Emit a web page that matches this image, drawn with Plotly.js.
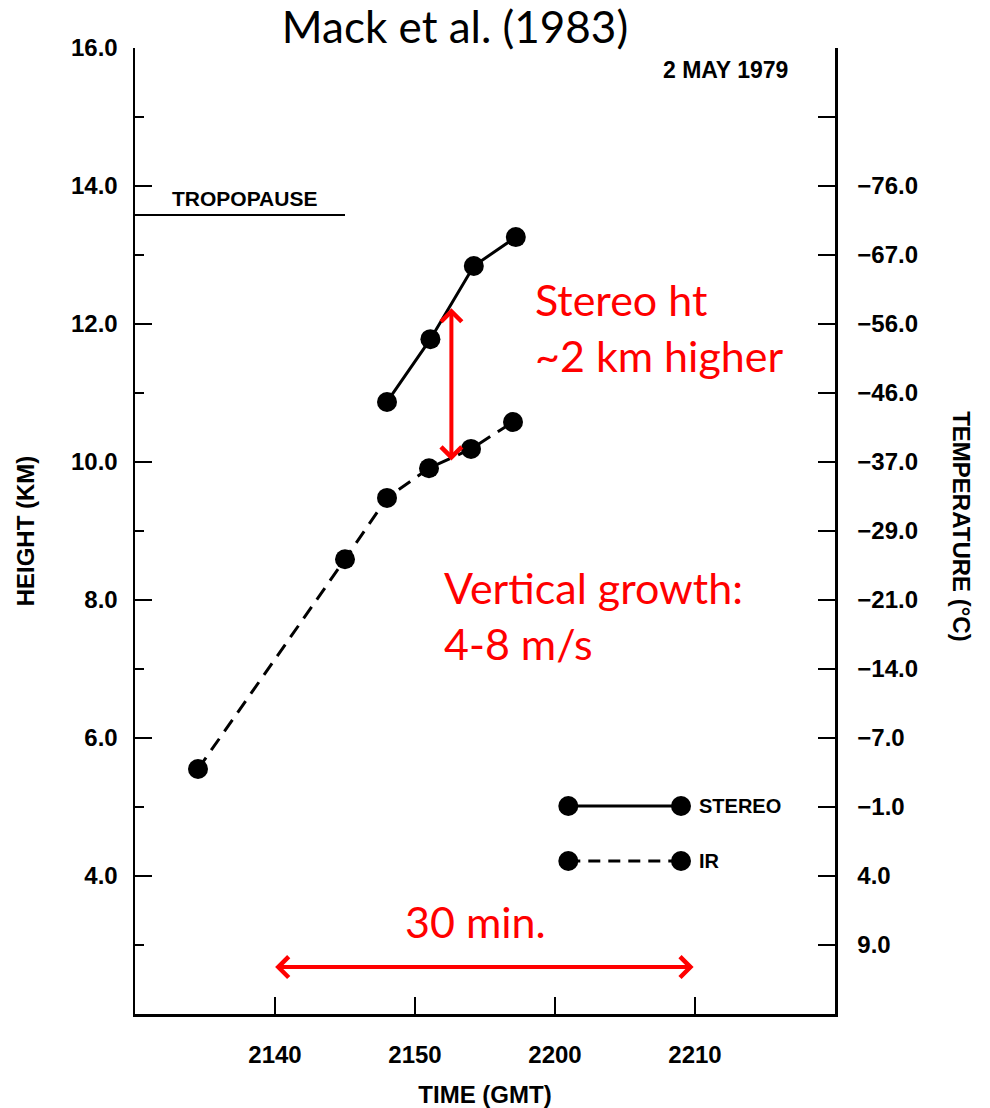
<!DOCTYPE html>
<html>
<head>
<meta charset="utf-8">
<script src="https://cdn.plot.ly/plotly-3.0.1.min.js"></script>
<style>
  html, body { margin: 0; padding: 0; background: #ffffff; }
  #chart { width: 990px; height: 1108px; }
</style>
</head>
<body>
<div id="chart"></div>
<script>
// ---- data (time in minutes after 2100 GMT, height in km) ----
const TIME_IR = [34.5, 45.0, 48.0, 51.0, 54.0, 57.0];
const HEIGHT_IR = [5.55, 8.59, 9.48, 9.91, 10.19, 10.58];
const TIME_STEREO = [48.0, 51.1, 54.2, 57.2];
const HEIGHT_STEREO = [10.87, 11.78, 12.84, 13.26];

const TIME_TICK_VALUES = [40, 50, 60, 70];
const TIME_TICK_LABELS = ["2140", "2150", "2200", "2210"];
const HEIGHT_TICK_VALUES = [4, 6, 8, 10, 12, 14, 16];
const HEIGHT_TICK_LABELS = ["4.0", "6.0", "8.0", "10.0", "12.0", "14.0", "16.0"];
const TEMP_TICK_HEIGHTS = [3, 4, 5, 6, 7, 8, 9, 10, 11, 12, 13, 14, 15, 16];
const TEMP_TICK_LABELS = ["9.0", "4.0", "\u22121.0", "\u22127.0", "\u221214.0", "\u221221.0", "\u221229.0",
                          "\u221237.0", "\u221246.0", "\u221256.0", "\u221267.0", "\u221276.0", "", ""];
const TROPOPAUSE_HEIGHT = 13.58;
const TROPOPAUSE_TIMES = [30, 45];

const BOLD = {family: "Liberation Sans, Arial, sans-serif", size: 24, color: "#000", weight: 700};
const RED = {family: "Lato, 'Open Sans', sans-serif", size: 43, color: "#ff0000"};

const traces = [
  {
    x: TIME_IR, y: HEIGHT_IR, type: "scatter", mode: "lines+markers", name: "IR",
    line: {color: "#000", width: 3, dash: "14px,9px"},
    marker: {color: "#000", size: 20}, showlegend: false, hoverinfo: "x+y"
  },
  {
    x: TIME_STEREO, y: HEIGHT_STEREO, type: "scatter", mode: "lines+markers", name: "STEREO",
    line: {color: "#000", width: 3},
    marker: {color: "#000", size: 20}, showlegend: false, hoverinfo: "x+y"
  },
  {
    x: TROPOPAUSE_TIMES, y: [TROPOPAUSE_HEIGHT, TROPOPAUSE_HEIGHT], type: "scatter", mode: "lines",
    name: "TROPOPAUSE", line: {color: "#000", width: 2}, showlegend: false, hoverinfo: "skip"
  },
  {
    x: TIME_STEREO, y: HEIGHT_STEREO, type: "scatter", mode: "none", yaxis: "y2",
    showlegend: false, hoverinfo: "skip"
  }
];

function legendShapes(yp, dash) {
  const x0 = 0.619, x1 = 0.78;
  const s = [{type: "line", xref: "paper", yref: "paper", x0: x0, x1: x1, y0: yp, y1: yp,
              line: {color: "#000", width: 3, dash: dash}}];
  [x0, x1].forEach(function (xp) {
    s.push({type: "circle", xref: "paper", yref: "paper", xsizemode: "pixel", ysizemode: "pixel",
            xanchor: xp, yanchor: yp, x0: -10, x1: 10, y0: -10, y1: 10,
            fillcolor: "#000", line: {color: "#000", width: 0}});
  });
  return s;
}

const layout = {
  width: 990, height: 1108,
  margin: {l: 135, r: 155, t: 48, b: 94},
  paper_bgcolor: "#fff", plot_bgcolor: "#fff",
  showlegend: false,
  title: {
    text: "Mack et al. (1983)",
    font: {family: "Lato, 'Open Sans', sans-serif", size: 44, color: "#000"},
    x: 455 / 990, xanchor: "center", xref: "container",
    y: 1 - 28 / 1108, yanchor: "middle", yref: "container"
  },
  xaxis: {
    range: [30, 80], showgrid: false, zeroline: false,
    showline: true, linecolor: "#000", linewidth: 2.5, mirror: false,
    ticks: "inside", ticklen: 17, tickwidth: 2.5, tickcolor: "#000",
    tickvals: TIME_TICK_VALUES, ticktext: TIME_TICK_LABELS,
    tickfont: BOLD, ticklabelstandoff: 18,
    title: {text: "TIME (GMT)", font: BOLD, standoff: 28}
  },
  yaxis: {
    range: [2, 16], showgrid: false, zeroline: false,
    showline: true, linecolor: "#000", linewidth: 2.5,
    ticks: "inside", ticklen: 17, tickwidth: 2.5, tickcolor: "#000",
    tickvals: HEIGHT_TICK_VALUES, ticktext: HEIGHT_TICK_LABELS,
    minor: {tickvals: [3, 5, 7, 9, 11, 13, 15], ticks: "inside", ticklen: 9, tickwidth: 2.5, tickcolor: "#000"},
    tickfont: BOLD, ticklabelstandoff: 10,
    title: {text: "HEIGHT (KM)", font: BOLD, standoff: 30}
  },
  yaxis2: {
    range: [2, 16], overlaying: "y", side: "right", showgrid: false, zeroline: false,
    showline: true, linecolor: "#000", linewidth: 2.5,
    ticks: "inside", ticklen: 17, tickwidth: 2.5, tickcolor: "#000",
    tickvals: TEMP_TICK_HEIGHTS, ticktext: TEMP_TICK_LABELS,
    tickfont: BOLD, ticklabelstandoff: 15
  },
  shapes: [].concat(legendShapes(0.2153, "solid"), legendShapes(0.1584, "12px,8px")),
  annotations: [
    {text: "TEMPERATURE (\u00B0C)", xref: "paper", yref: "paper", x: (962 - 135) / 700, y: 0.505,
     xanchor: "center", yanchor: "middle", textangle: 90, showarrow: false, font: BOLD},
    {text: "2 MAY 1979", xref: "paper", yref: "paper", x: (661 - 135) / 700, y: (1014 - 70) / 966,
     xanchor: "left", yanchor: "middle", showarrow: false,
     font: {family: BOLD.family, size: 23, color: "#000", weight: 700}},
    {text: "TROPOPAUSE", xref: "paper", yref: "paper", x: (170 - 135) / 700, y: (1014 - 199) / 966,
     xanchor: "left", yanchor: "middle", showarrow: false,
     font: {family: BOLD.family, size: 21, color: "#000", weight: 700}},
    {text: "STEREO", xref: "paper", yref: "paper", x: (697 - 135) / 700, y: 0.2153,
     xanchor: "left", yanchor: "middle", showarrow: false,
     font: {family: BOLD.family, size: 20, color: "#000", weight: 700}},
    {text: "IR", xref: "paper", yref: "paper", x: (697 - 135) / 700, y: 0.1584,
     xanchor: "left", yanchor: "middle", showarrow: false,
     font: {family: BOLD.family, size: 20, color: "#000", weight: 700}},
    {text: "Stereo ht<br>~2 km higher", xref: "paper", yref: "paper", x: (533 - 135) / 700, y: (1014 - 328) / 966,
     xanchor: "left", yanchor: "middle", align: "left", showarrow: false, font: RED},
    {text: "Vertical growth:<br>4-8 m/s", xref: "paper", yref: "paper", x: (442 - 135) / 700, y: (1014 - 615) / 966,
     xanchor: "left", yanchor: "middle", align: "left", showarrow: false, font: RED},
    {text: "30 min.", xref: "paper", yref: "paper", x: (403 - 135) / 700, y: (1014 - 921) / 966,
     xanchor: "left", yanchor: "middle", align: "left", showarrow: false, font: RED},
    {text: "", x: 52.6, y: 12.23, ax: 52.6, ay: 10.0, xref: "x", yref: "y", axref: "x", ayref: "y",
     showarrow: true, arrowhead: 4, startarrowhead: 4, arrowside: "end+start",
     arrowsize: 1, startarrowsize: 1, arrowwidth: 4, arrowcolor: "#ff0000", standoff: 0, startstandoff: 0},
    {text: "", x: 69.9, y: 2.68, ax: 39.9, ay: 2.68, xref: "x", yref: "y", axref: "x", ayref: "y",
     showarrow: true, arrowhead: 4, startarrowhead: 4, arrowside: "end+start",
     arrowsize: 1, startarrowsize: 1, arrowwidth: 4, arrowcolor: "#ff0000", standoff: 0, startstandoff: 0}
  ]
};

Plotly.newPlot("chart", traces, layout, {displayModeBar: false, staticPlot: true});
</script>
</body>
</html>
